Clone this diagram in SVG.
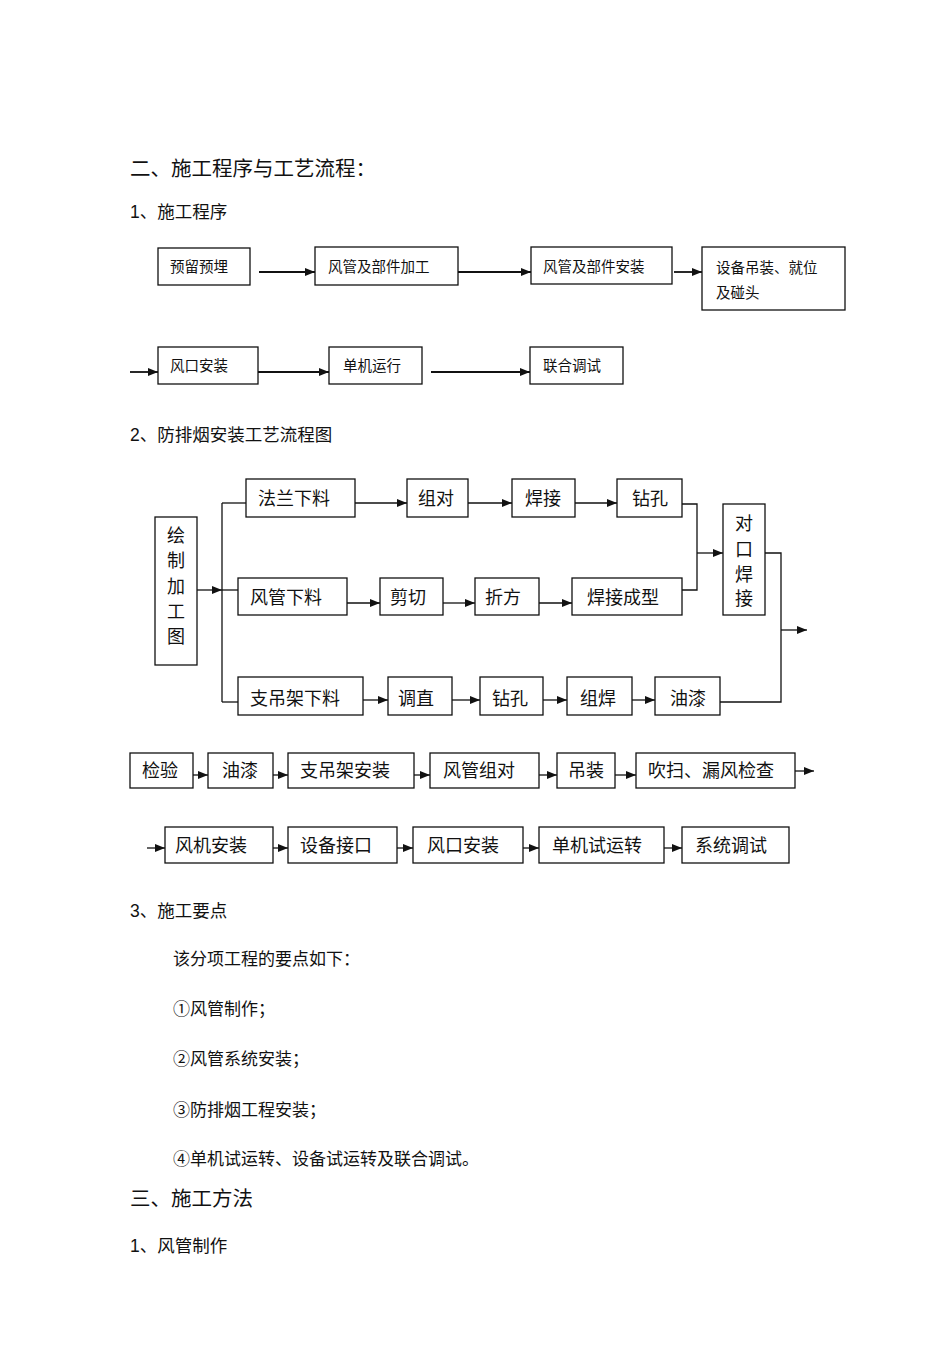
<svg xmlns="http://www.w3.org/2000/svg" width="950" height="1345" viewBox="0 0 950 1345">
<style>
text{font-family:"Liberation Sans","Noto Sans CJK SC",sans-serif;fill:#111}
.h1{font-size:20.5px}
.h2{font-size:17.5px}
.p{font-size:17px}
.cj{font-family:"Noto Sans CJK SC",sans-serif}
.s{font-size:14.5px}
.f{font-size:18px}
.vc{font-size:18px;text-anchor:middle}
rect{fill:#fff;stroke:#111;stroke-width:1.3}
.c line,.c polyline{stroke:#111;stroke-width:1.3;fill:none}
.c .a{marker-end:url(#ah)}
.c .t{stroke-width:1.8}
</style>
<defs>
<marker id="ah" markerUnits="userSpaceOnUse" markerWidth="10" markerHeight="8" refX="10" refY="4" orient="auto">
<path d="M0,0 L10,4 L0,8 z" fill="#111"/>
</marker>
</defs>
<rect x="0" y="0" width="950" height="1345" style="fill:#fff;stroke:none"/>

<text class="h1" x="130" y="176">二、施工程序与工艺流程：</text>
<text class="h2" x="130" y="218">1、施工程序</text>

<g id="connectors1" class="c">
<line class="a t" x1="259" y1="272" x2="315" y2="272"/>
<line class="a t" x1="458" y1="272" x2="531" y2="272"/>
<line class="a t" x1="674" y1="272" x2="702" y2="272"/>
<line class="a t" x1="130" y1="372" x2="158" y2="372"/>
<line class="a t" x1="258" y1="372" x2="329" y2="372"/>
<line class="a t" x1="431" y1="372" x2="530" y2="372"/>
</g>
<g id="n_yuliu"><rect x="158" y="248" width="92" height="37"/><text class="s" x="170" y="272">预留预埋</text></g>
<g id="n_jiagong"><rect x="315" y="247" width="143" height="38"/><text class="s" x="328" y="271.5">风管及部件加工</text></g>
<g id="n_anzhuang"><rect x="531" y="247" width="141" height="37"/><text class="s" x="543" y="271.5">风管及部件安装</text></g>
<g id="n_shebei"><rect x="702" y="247" width="143" height="63"/><text class="s" x="716" y="272.5">设备吊装、就位</text><text class="s" x="716" y="297.5">及碰头</text></g>
<g id="n_fengkou1"><rect x="158" y="347" width="100" height="37"/><text class="s" x="170" y="371">风口安装</text></g>
<g id="n_danji1"><rect x="329" y="347" width="93" height="37"/><text class="s" x="343" y="371">单机运行</text></g>
<g id="n_lianhe"><rect x="530" y="347" width="93" height="37"/><text class="s" x="543" y="371">联合调试</text></g>

<text class="h2" x="130" y="441">2、防排烟安装工艺流程图</text>

<g id="connectors2" class="c">
<line class="a" x1="197" y1="590" x2="222" y2="590"/>
<line x1="222" y1="503" x2="222" y2="702"/>
<line x1="222" y1="503" x2="246" y2="503"/>
<line x1="222" y1="590" x2="238" y2="590"/>
<line x1="222" y1="702" x2="238" y2="702"/>
<line class="a" x1="355" y1="503" x2="407" y2="503"/>
<line class="a" x1="468" y1="503" x2="512" y2="503"/>
<line class="a" x1="575" y1="503" x2="617" y2="503"/>
<polyline points="682,504 697,504 697,590 682,590"/>
<line class="a" x1="697" y1="553" x2="723" y2="553"/>
<polyline points="765,553 781,553 781,702 720,702"/>
<line class="a" x1="781" y1="630" x2="807" y2="630"/>
<line class="a" x1="347" y1="603" x2="380" y2="603"/>
<line class="a" x1="443" y1="603" x2="475" y2="603"/>
<line class="a" x1="539" y1="603" x2="572" y2="603"/>
<line class="a" x1="363" y1="700" x2="388" y2="700"/>
<line class="a" x1="452" y1="700" x2="480" y2="700"/>
<line class="a" x1="543" y1="700" x2="567" y2="700"/>
<line class="a" x1="632" y1="700" x2="655" y2="700"/>
</g>
<g id="n_huizhi"><rect x="155" y="517" width="42" height="148"/>
<text class="vc" x="176" y="541.5">绘</text><text class="vc" x="176" y="566.5">制</text><text class="vc" x="176" y="592.5">加</text><text class="vc" x="176" y="617.5">工</text><text class="vc" x="176" y="642.5">图</text></g>
<g id="n_falan"><rect x="246" y="479" width="109" height="38"/><text class="f" x="258" y="504.5">法兰下料</text></g>
<g id="n_zudui"><rect x="407" y="479" width="61" height="38"/><text class="f" x="418" y="504.5">组对</text></g>
<g id="n_hanjie1"><rect x="512" y="479" width="63" height="38"/><text class="f" x="525" y="504.5">焊接</text></g>
<g id="n_zuankong1"><rect x="617" y="479" width="65" height="38"/><text class="f" x="632" y="504.5">钻孔</text></g>
<g id="n_duikou"><rect x="723" y="504" width="42" height="111"/>
<text class="vc" x="744" y="529.5">对</text><text class="vc" x="744" y="555.5">口</text><text class="vc" x="744" y="580.5">焊</text><text class="vc" x="744" y="604.5">接</text></g>
<g id="n_fengguanxl"><rect x="238" y="578" width="109" height="37"/><text class="f" x="250" y="603.5">风管下料</text></g>
<g id="n_jianqie"><rect x="380" y="578" width="63" height="37"/><text class="f" x="390" y="603.5">剪切</text></g>
<g id="n_zhefang"><rect x="475" y="578" width="64" height="37"/><text class="f" x="485" y="603.5">折方</text></g>
<g id="n_chengxing"><rect x="572" y="578" width="110" height="37"/><text class="f" x="587" y="603.5">焊接成型</text></g>
<g id="n_zhidiaojia"><rect x="238" y="677" width="125" height="38"/><text class="f" x="250" y="704.5">支吊架下料</text></g>
<g id="n_tiaozhi"><rect x="388" y="677" width="64" height="38"/><text class="f" x="398" y="704.5">调直</text></g>
<g id="n_zuankong2"><rect x="480" y="677" width="63" height="38"/><text class="f" x="492" y="704.5">钻孔</text></g>
<g id="n_zuhan"><rect x="567" y="677" width="65" height="38"/><text class="f" x="580" y="704.5">组焊</text></g>
<g id="n_youqi1"><rect x="655" y="677" width="65" height="38"/><text class="f" x="670" y="704.5">油漆</text></g>

<g id="connectors3" class="c">
<line class="a" x1="193" y1="775" x2="208" y2="775"/>
<line class="a" x1="273" y1="775" x2="288" y2="775"/>
<line class="a" x1="414" y1="775" x2="430" y2="775"/>
<line class="a" x1="539" y1="775" x2="557" y2="775"/>
<line class="a" x1="615" y1="775" x2="636" y2="775"/>
<line class="a" x1="795" y1="771" x2="814" y2="771"/>
<line class="a" x1="147" y1="848" x2="165" y2="848"/>
<line class="a" x1="273" y1="848" x2="288" y2="848"/>
<line class="a" x1="397" y1="848" x2="413" y2="848"/>
<line class="a" x1="523" y1="848" x2="539" y2="848"/>
<line class="a" x1="664" y1="848" x2="682" y2="848"/>
</g>
<g id="n_jianyan"><rect x="130" y="753" width="63" height="35"/><text class="f" x="142" y="777">检验</text></g>
<g id="n_youqi2"><rect x="208" y="753" width="65" height="35"/><text class="f" x="222" y="777">油漆</text></g>
<g id="n_zdjaz"><rect x="288" y="753" width="126" height="35"/><text class="f" x="300" y="777">支吊架安装</text></g>
<g id="n_fgzd"><rect x="430" y="753" width="109" height="35"/><text class="f" x="443" y="777">风管组对</text></g>
<g id="n_diaozhuang"><rect x="557" y="753" width="58" height="35"/><text class="f" x="568" y="777">吊装</text></g>
<g id="n_chuisao"><rect x="636" y="753" width="159" height="35"/><text class="f" x="648" y="777">吹扫、漏风检查</text></g>
<g id="n_fengji"><rect x="165" y="827" width="108" height="36"/><text class="f" x="175" y="851.5">风机安装</text></g>
<g id="n_jiekou"><rect x="288" y="827" width="109" height="36"/><text class="f" x="300" y="851.5">设备接口</text></g>
<g id="n_fengkou2"><rect x="413" y="827" width="110" height="36"/><text class="f" x="427" y="851.5">风口安装</text></g>
<g id="n_shiyunzhuan"><rect x="539" y="827" width="125" height="36"/><text class="f" x="552" y="851.5">单机试运转</text></g>
<g id="n_xitong"><rect x="682" y="827" width="107" height="36"/><text class="f" x="695" y="851.5">系统调试</text></g>

<text class="h2" x="130" y="917">3、施工要点</text>
<text class="p" x="173" y="964.5">该分项工程的要点如下：</text>
<text class="p cj" x="173" y="1015">①风管制作；</text>
<text class="p cj" x="173" y="1065">②风管系统安装；</text>
<text class="p cj" x="173" y="1116">③防排烟工程安装；</text>
<text class="p cj" x="173" y="1165">④单机试运转、设备试运转及联合调试。</text>
<text class="h1" x="130" y="1206">三、施工方法</text>
<text class="h2" x="130" y="1252">1、风管制作</text>
</svg>
